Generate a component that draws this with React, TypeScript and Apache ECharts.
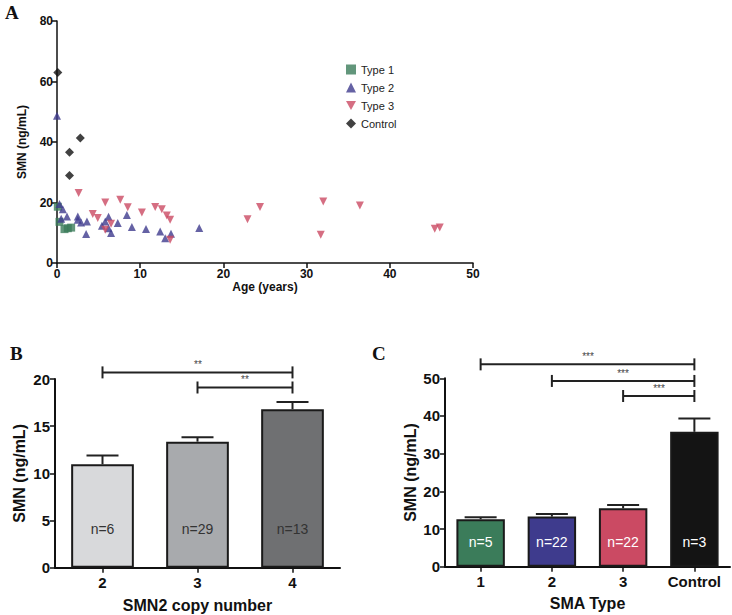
import React, { useEffect, useRef } from "react";
import * as echarts from "echarts";

// Panel A data: [age (years), SMN (ng/mL)]
const type1Points: number[][] = [
  [0.1, 18.6], [0.3, 13.6], [0.9, 11.2], [1.3, 11.5], [1.7, 11.7],
];
const type2Points: number[][] = [
  [0.0, 48.7], [0.3, 19.5], [0.7, 17.8], [0.5, 14.6], [1.2, 15.4], [2.5, 15.4],
  [2.5, 14.3], [2.9, 13.4], [3.6, 13.7], [3.5, 9.6], [5.4, 12.3], [5.8, 13.7],
  [6.2, 15.3], [6.2, 11.5], [6.5, 9.9], [7.3, 13.2], [8.4, 15.9], [9.0, 11.9],
  [10.7, 11.2], [12.4, 10.4], [13.0, 8.2], [13.7, 9.7], [17.1, 11.6],
];
const type3Points: number[][] = [
  [2.6, 23.1], [4.3, 16.2], [4.9, 14.9], [5.8, 20.0], [5.8, 11.0], [6.5, 13.0],
  [7.6, 20.9], [8.5, 18.4], [10.2, 16.7], [11.8, 18.5], [12.6, 17.8], [13.2, 15.7],
  [13.6, 14.3], [13.6, 7.7], [22.9, 14.5], [24.4, 18.5], [32.0, 20.3], [31.7, 9.3],
  [36.4, 19.0], [45.4, 11.3], [46.0, 11.7],
];
const controlPoints: number[][] = [
  [0.1, 63.0], [1.5, 36.6], [1.5, 28.9], [2.8, 41.3],
];

// Panel B data
const copyCategories = ["2", "3", "4"];
const copyMeans = [10.96, 13.36, 16.8];
const copyErrors = [0.94, 0.46, 0.77];
const copyN = [6, 29, 13];
const copyColors = ["#d8d9db", "#a8aaad", "#6f7072"];
// brackets: [fromIndex, toIndex, yValue, stars]
const copyBrackets: [number, number, number, string][] = [
  [0, 2, 20.7, "**"],
  [1, 2, 19.1, "**"],
];

// Panel C data
const typeCategories = ["1", "2", "3", "Control"];
const typeMeans = [12.6, 13.3, 15.5, 35.8];
const typeErrors = [0.5, 0.7, 0.9, 3.5];
const typeN = [5, 22, 22, 3];
const typeColors = ["#3b7c5a", "#3e3b8d", "#cb4a63", "#141414"];
const typeBrackets: [number, number, number, string][] = [
  [0, 3, 53.7, "***"],
  [1, 3, 49.3, "***"],
  [2, 3, 45.3, "***"],
];

const FONT = "'Liberation Sans', Arial, sans-serif";

function errorSeries(xi: number, means: number[], errs: number[]) {
  return {
    type: "custom",
    xAxisIndex: xi,
    yAxisIndex: xi,
    z: 1,
    silent: true,
    itemStyle: { color: "#222" },
    data: means.map((m, i) => [i, m, m + errs[i]]),
    renderItem: (params: any, api: any) => {
      const i = api.value(0);
      const base = api.coord([i, api.value(1)]);
      const top = api.coord([i, api.value(2)]);
      const half = 16;
      const style = { stroke: "#222", lineWidth: 2 };
      return {
        type: "group",
        children: [
          { type: "line", shape: { x1: base[0], y1: base[1], x2: top[0], y2: top[1] }, style },
          { type: "line", shape: { x1: top[0] - half, y1: top[1], x2: top[0] + half, y2: top[1] }, style },
        ],
      };
    },
  };
}

function bracketSeries(xi: number, brackets: [number, number, number, string][]) {
  return {
    type: "custom",
    xAxisIndex: xi,
    yAxisIndex: xi,
    silent: true,
    clip: false,
    itemStyle: { color: "#444" },
    data: brackets.map((b) => [b[0], b[1], b[2]]),
    renderItem: (params: any, api: any) => {
      const a = api.value(0);
      const b = api.value(1);
      const y = api.value(2);
      const stars = brackets[params.dataIndex][3];
      const p1 = api.coord([a, y]);
      const p2 = api.coord([b, y]);
      const style = { stroke: "#222", lineWidth: 2 };
      return {
        type: "group",
        children: [
          { type: "line", shape: { x1: p1[0], y1: p1[1], x2: p2[0], y2: p2[1] }, style },
          { type: "line", shape: { x1: p1[0], y1: p1[1] - 6, x2: p1[0], y2: p1[1] + 6 }, style },
          { type: "line", shape: { x1: p2[0], y1: p2[1] - 6, x2: p2[0], y2: p2[1] + 6 }, style },
          {
            type: "text",
            style: {
              text: stars,
              x: Math.round((p1[0] + p2[0]) / 2),
              y: Math.round(p1[1] - 3),
              align: "center",
              verticalAlign: "bottom",
              fill: "#444",
              fontSize: 10,
              fontFamily: FONT,
            },
          },
        ],
      };
    },
  };
}

export default function App() {
  const ref = useRef<HTMLDivElement>(null);
  useEffect(() => {
    if (!ref.current) return;
    const chart = echarts.init(ref.current, undefined, { renderer: "svg" });
    const axisLine = (w: number) => ({ show: true, lineStyle: { color: "#111", width: w } });
    const tick = { show: true, inside: false, length: 5, lineStyle: { color: "#111", width: 1.5 } };
    const lbl = (size: number, margin: number) => ({
      fontSize: size,
      fontWeight: "bold",
      color: "#111",
      margin,
      fontFamily: FONT,
    });
    const nameStyle = (size: number) => ({
      fontSize: size,
      fontWeight: "bold",
      color: "#111",
      fontFamily: FONT,
    });
    const option: any = {
      animation: false,
      backgroundColor: "#fff",
      textStyle: { fontFamily: FONT },
      graphic: [
        { type: "text", left: 5, top: 3, style: { text: "A", font: "bold 19px 'Liberation Serif', serif", fill: "#111" } },
        { type: "text", left: 10, top: 344, style: { text: "B", font: "bold 19px 'Liberation Serif', serif", fill: "#111" } },
        { type: "text", left: 372, top: 344, style: { text: "C", font: "bold 19px 'Liberation Serif', serif", fill: "#111" } },
      ],
      legend: {
        left: 341,
        top: 59,
        orient: "vertical",
        itemGap: 7,
        itemWidth: 10,
        itemHeight: 10,
        textStyle: { fontSize: 11, color: "#222", fontFamily: FONT },
        data: [
          { name: "Type 1", icon: "rect" },
          { name: "Type 2", icon: "triangle" },
          { name: "Type 3", icon: "path://M0,0 L10,0 L5,9 Z" },
          { name: "Control", icon: "diamond" },
        ],
      },
      grid: [
        { left: 57, top: 21, width: 416, height: 242 },
        { left: 55, top: 379, width: 285, height: 188.7 },
        { left: 445, top: 378.3, width: 285, height: 188.4 },
      ],
      xAxis: [
        {
          gridIndex: 0,
          type: "value",
          min: 0,
          max: 50,
          interval: 10,
          splitLine: { show: false },
          axisLine: axisLine(1.5),
          axisTick: tick,
          axisLabel: lbl(12, 5),
          name: "Age (years)",
          nameLocation: "middle",
          nameGap: 16,
          nameTextStyle: nameStyle(12),
        },
        {
          gridIndex: 1,
          type: "category",
          data: copyCategories,
          axisLine: axisLine(2),
          axisTick: { ...tick, alignWithLabel: true },
          axisLabel: lbl(15, 7),
          name: "SMN2 copy number",
          nameLocation: "middle",
          nameGap: 30,
          nameTextStyle: nameStyle(16),
        },
        {
          gridIndex: 2,
          type: "category",
          data: typeCategories,
          axisLine: axisLine(2),
          axisTick: { ...tick, alignWithLabel: true },
          axisLabel: lbl(15, 7),
          name: "SMA Type",
          nameLocation: "middle",
          nameGap: 29,
          nameTextStyle: nameStyle(16),
        },
      ],
      yAxis: [
        {
          gridIndex: 0,
          type: "value",
          min: 0,
          max: 80,
          interval: 20,
          splitLine: { show: false },
          axisLine: axisLine(1.5),
          axisTick: tick,
          axisLabel: lbl(12, 4),
          name: "SMN (ng/mL)",
          nameLocation: "middle",
          nameGap: 29,
          nameTextStyle: nameStyle(12),
        },
        {
          gridIndex: 1,
          type: "value",
          min: 0,
          max: 20,
          interval: 5,
          splitLine: { show: false },
          axisLine: axisLine(2),
          axisTick: tick,
          axisLabel: lbl(15, 5),
          name: "SMN (ng/mL)",
          nameLocation: "middle",
          nameGap: 28,
          nameTextStyle: nameStyle(16),
        },
        {
          gridIndex: 2,
          type: "value",
          min: 0,
          max: 50,
          interval: 10,
          splitLine: { show: false },
          axisLine: axisLine(2),
          axisTick: tick,
          axisLabel: lbl(15, 5),
          name: "SMN (ng/mL)",
          nameLocation: "middle",
          nameGap: 27,
          nameTextStyle: nameStyle(16),
        },
      ],
      series: [
        {
          name: "Type 1",
          type: "scatter",
          xAxisIndex: 0,
          yAxisIndex: 0,
          symbol: "rect",
          symbolSize: 8,
          itemStyle: { color: typeColors[0] },
          data: type1Points,
        },
        {
          name: "Type 2",
          type: "scatter",
          xAxisIndex: 0,
          yAxisIndex: 0,
          symbol: "triangle",
          symbolSize: 8,
          itemStyle: { color: typeColors[1] },
          data: type2Points,
        },
        {
          name: "Type 3",
          type: "scatter",
          xAxisIndex: 0,
          yAxisIndex: 0,
          symbol: "triangle",
          symbolRotate: 180,
          symbolSize: 8,
          itemStyle: { color: typeColors[2] },
          data: type3Points,
        },
        {
          name: "Control",
          type: "scatter",
          xAxisIndex: 0,
          yAxisIndex: 0,
          symbol: "diamond",
          symbolSize: 9,
          itemStyle: { color: "#111" },
          data: controlPoints,
        },
        errorSeries(1, copyMeans, copyErrors),
        {
          type: "bar",
          xAxisIndex: 1,
          yAxisIndex: 1,
          barWidth: "66%",
          z: 2,
          data: copyMeans.map((v, i) => ({
            value: v,
            itemStyle: { color: copyColors[i], borderColor: "#1a1a1a", borderWidth: 2 },
          })),
          label: {
            show: true,
            position: "insideBottom",
            distance: 32,
            fontSize: 14,
            color: "#333",
            fontFamily: FONT,
            formatter: (p: any) => "n=" + copyN[p.dataIndex],
          },
        },
        bracketSeries(1, copyBrackets),
        errorSeries(2, typeMeans, typeErrors),
        {
          type: "bar",
          xAxisIndex: 2,
          yAxisIndex: 2,
          barWidth: "68%",
          z: 2,
          data: typeMeans.map((v, i) => ({
            value: v,
            itemStyle: { color: typeColors[i], borderColor: "#1a1a1a", borderWidth: 2 },
          })),
          label: {
            show: true,
            position: "insideBottom",
            distance: 18,
            fontSize: 14,
            color: "#fff",
            fontFamily: FONT,
            formatter: (p: any) => "n=" + typeN[p.dataIndex],
          },
        },
        bracketSeries(2, typeBrackets),
      ],
    };
    chart.setOption(option);
    return () => chart.dispose();
  }, []);
  return (
    <div
      ref={ref}
      style={{ position: "fixed", left: 0, top: 0, width: 732, height: 615 }}
    />
  );
}
